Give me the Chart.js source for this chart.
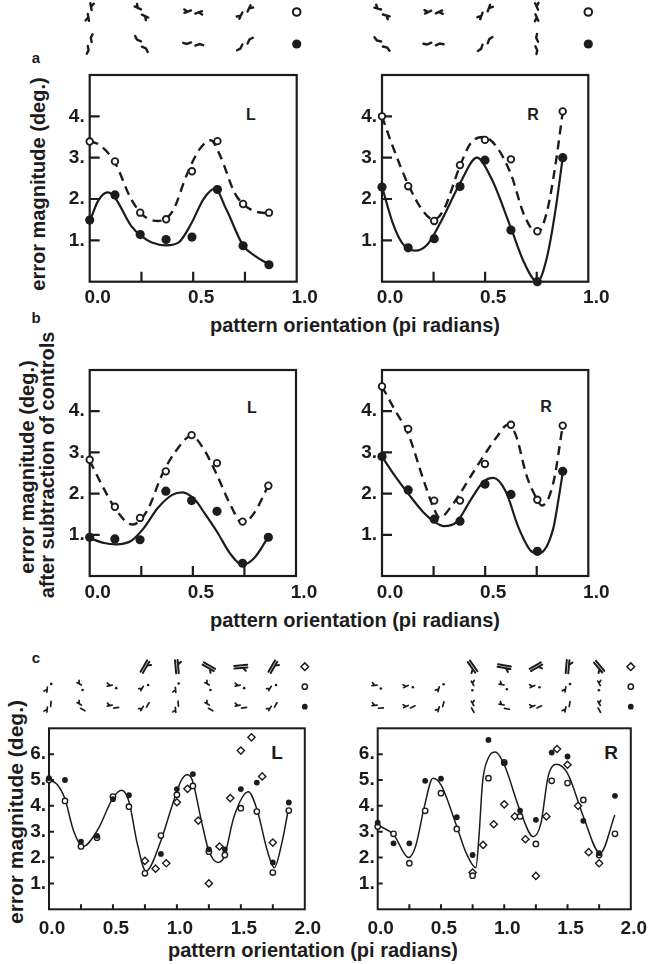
<!DOCTYPE html>
<html>
<head>
<meta charset="utf-8">
<script src="https://cdn.jsdelivr.net/npm/chart.js@4.4.1/dist/chart.umd.min.js"></script>
<style>
  body { margin: 0; background: #fff; width: 652px; height: 964px; position: relative; overflow: hidden;
         font-family: "Liberation Sans", Arial, Helvetica, sans-serif; font-weight: bold; color: #1c1c1c; }
  canvas { position: absolute; }
  .t { position: absolute; white-space: nowrap; line-height: 1; transform: translate(-50%, -50%); }
  .v { transform: translate(-50%, -50%) rotate(-90deg); }
</style>
</head>
<body>
<div class="t" style="left:36px;top:57px;font-size:15px">a</div>
<div class="t" style="left:36px;top:317px;font-size:15px">b</div>
<div class="t" style="left:36px;top:657px;font-size:15px">c</div>

<div class="t" style="left:251px;top:115px;font-size:16px">L</div>
<div class="t" style="left:533px;top:115px;font-size:16px">R</div>
<div class="t" style="left:252px;top:408px;font-size:16px">L</div>
<div class="t" style="left:546px;top:407px;font-size:16px">R</div>
<div class="t" style="left:277px;top:752px;font-size:19px">L</div>
<div class="t" style="left:611px;top:752px;font-size:19px">R</div>

<div class="t v" style="left:38px;top:184px;font-size:20px">error magnitude (deg.)</div>
<div class="t v" style="left:27px;top:467px;font-size:20px">error magnitude (deg.)</div>
<div class="t v" style="left:47px;top:465px;font-size:20px">after subtraction of controls</div>
<div class="t v" style="left:15px;top:812px;font-size:21px">error magnitude (deg.)</div>

<div class="t" style="left:355px;top:325px;font-size:20px">pattern orientation (pi radians)</div>
<div class="t" style="left:355px;top:620px;font-size:20px">pattern orientation (pi radians)</div>
<div class="t" style="left:313px;top:950px;font-size:20px">pattern orientation (pi radians)</div>

<script>
// pattern orientation of each test (pi radians)
const orientL = [0, 0.122, 0.244, 0.369, 0.494, 0.617, 0.741, 0.866];
const orientR = [0, 0.127, 0.253, 0.378, 0.499, 0.625, 0.753, 0.876];

// a: error magnitude (deg.)
const aLOpen = [3.39, 2.91, 1.67, 1.51, 2.67, 3.40, 1.88, 1.67];
const aLFill = [1.49, 2.10, 1.14, 1.02, 1.08, 2.23, 0.87, 0.41];
const aROpen = [4.00, 2.31, 1.47, 2.82, 3.43, 2.96, 1.22, 4.12];
const aRFill = [2.29, 0.82, 1.04, 2.30, 2.94, 1.25, 0.00, 3.00];

// b: after subtraction of controls
const bLOpen = [2.82, 1.68, 1.41, 2.54, 3.42, 2.74, 1.32, 2.19];
const bLFill = [0.94, 0.90, 0.88, 2.06, 1.83, 1.57, 0.31, 0.94];
const bROpen = [4.60, 3.57, 1.83, 1.83, 2.72, 3.67, 1.85, 3.65];
const bRFill = [2.90, 2.09, 1.38, 1.33, 2.23, 1.98, 0.60, 2.54];

// fitted curves
const aLFillFitX = [0, 0.04, 0.087, 0.122, 0.2, 0.25, 0.3, 0.37, 0.43, 0.49, 0.55, 0.605, 0.66, 0.741, 0.8, 0.866];
const aLFillFitY = [1.45, 1.95, 2.16, 2.03, 1.35, 1.1, 0.95, 0.88, 0.95, 1.4, 2.0, 2.25, 1.75, 0.88, 0.62, 0.42];
const aLOpenFitX = [0, 0.05, 0.122, 0.2, 0.26, 0.33, 0.4, 0.47, 0.53, 0.585, 0.63, 0.7, 0.741, 0.8, 0.866];
const aLOpenFitY = [3.4, 3.3, 2.88, 2.0, 1.6, 1.47, 1.7, 2.6, 3.2, 3.42, 3.05, 2.15, 1.88, 1.7, 1.65];
const aRFillFitX = [0, 0.05, 0.1, 0.16, 0.22, 0.28, 0.33, 0.38, 0.46, 0.53, 0.625, 0.69, 0.753, 0.8, 0.84, 0.876];
const aRFillFitY = [2.3, 1.45, 0.92, 0.75, 0.9, 1.4, 1.9, 2.4, 3.0, 2.5, 1.3, 0.45, 0.0, 0.6, 1.7, 3.0];
const aROpenFitX = [0, 0.05, 0.127, 0.2, 0.25, 0.3, 0.378, 0.43, 0.49, 0.55, 0.625, 0.69, 0.753, 0.8, 0.84, 0.876];
const aROpenFitY = [4.0, 3.3, 2.35, 1.7, 1.5, 1.75, 2.8, 3.35, 3.5, 3.3, 2.6, 1.6, 1.18, 1.7, 2.8, 4.1];

const bLFillFitX = [0, 0.07, 0.13, 0.2, 0.26, 0.33, 0.4, 0.45, 0.51, 0.56, 0.62, 0.68, 0.74, 0.8, 0.866];
const bLFillFitY = [0.92, 0.8, 0.77, 0.85, 1.15, 1.65, 1.97, 2.03, 1.85, 1.5, 1.05, 0.55, 0.27, 0.45, 0.95];
const bLOpenFitX = [0, 0.06, 0.122, 0.18, 0.21, 0.28, 0.35, 0.42, 0.494, 0.55, 0.617, 0.68, 0.741, 0.8, 0.866];
const bLOpenFitY = [2.8, 2.2, 1.65, 1.3, 1.25, 1.6, 2.45, 3.05, 3.4, 3.1, 2.45, 1.75, 1.28, 1.55, 2.2];
const bRFillFitX = [0, 0.06, 0.127, 0.2, 0.253, 0.3, 0.36, 0.43, 0.49, 0.54, 0.6, 0.66, 0.72, 0.76, 0.83, 0.86, 0.876];
const bRFillFitY = [2.9, 2.45, 2.0, 1.55, 1.32, 1.21, 1.3, 1.85, 2.28, 2.38, 2.05, 1.2, 0.62, 0.55, 1.15, 2.0, 2.5];
const bROpenFitX = [0, 0.06, 0.127, 0.2, 0.253, 0.28, 0.33, 0.378, 0.44, 0.499, 0.56, 0.61, 0.65, 0.7, 0.753, 0.775, 0.83, 0.876];
const bROpenFitY = [4.6, 4.05, 3.45, 2.35, 1.62, 1.41, 1.65, 2.0, 2.5, 2.96, 3.4, 3.67, 3.4, 2.45, 1.85, 1.71, 2.25, 3.65];

// c: 16 orientations, diamonds only 0.75..1.75
const cX = [0, 0.125, 0.25, 0.375, 0.5, 0.625, 0.75, 0.875, 1.0, 1.125, 1.25, 1.375, 1.5, 1.625, 1.75, 1.875];
const cDiaX = [0.75, 0.833, 0.917, 1.0, 1.083, 1.167, 1.25, 1.333, 1.417, 1.5, 1.583, 1.667, 1.75];
const cLFill = [5.07, 5.0, 2.62, 2.84, 4.26, 4.41, null, 2.14, 4.65, 5.23, 2.32, 2.32, 4.65, 4.9, 1.81, 4.13];
const cLOpen = [5.0, 4.19, 2.43, 2.77, 4.36, 3.97, 1.39, 2.85, 4.43, 4.77, 2.23, 2.1, 3.91, 3.78, 1.42, 3.82];
const cLDia = [1.87, 1.57, 1.78, 4.14, 4.66, 3.43, 1.0, 2.43, 4.3, 6.14, 6.65, 5.14, 2.58];
const cRFill = [3.35, 2.55, 2.55, 4.97, 5.05, 3.56, 2.1, 6.55, 5.65, 3.82, 3.46, 6.06, 5.91, 3.42, 2.17, 4.39];
const cROpen = [3.2, 2.92, 1.78, 3.81, 4.49, 3.11, 1.3, 5.07, 5.68, 3.59, 2.53, 4.97, 4.88, 4.23, 2.1, 2.92];
const cRDia = [1.42, 2.49, 3.29, 4.06, 3.59, 2.71, 1.29, 3.59, 6.2, 5.59, 4.0, 2.21, 1.78];

const cLFitX = [0, 0.06, 0.123, 0.19, 0.265, 0.38, 0.5, 0.568, 0.625, 0.69, 0.758, 0.877, 0.96, 1.036, 1.08, 1.12, 1.19, 1.247, 1.32, 1.37, 1.447, 1.558, 1.627, 1.705, 1.761, 1.82, 1.871];
const cLFitY = [5.0, 4.85, 4.3, 3.07, 2.43, 3.07, 4.3, 4.6, 4.17, 2.55, 1.48, 2.68, 3.97, 5.0, 5.2, 5.0, 3.46, 2.3, 1.81, 2.04, 3.59, 4.55, 3.85, 2.3, 1.61, 2.55, 3.85];
const cRFitX = [0, 0.126, 0.244, 0.3, 0.37, 0.437, 0.5, 0.625, 0.7, 0.776, 0.8, 0.828, 0.874, 0.93, 1.0, 1.123, 1.23, 1.29, 1.347, 1.41, 1.5, 1.625, 1.758, 1.874];
const cRFitY = [3.26, 2.88, 2.0, 2.45, 4.0, 5.07, 4.81, 3.2, 2.17, 1.61, 2.8, 4.88, 5.85, 6.08, 5.59, 3.85, 2.81, 3.33, 5.14, 5.61, 5.26, 3.59, 2.17, 3.65];

// tick labels
const abXTicks = [0, 0.5, 1.0];
const abYTicks = [1, 2, 3, 4];
const cXTicks = [0, 0.5, 1.0, 1.5, 2.0];
const cYTicks = [1, 2, 3, 4, 5, 6];

// stimulus glyph orientations (degrees) above each column
const aLGlyphs = [-80, -25, 20, 65];
const aRGlyphs = [-15, 25, 70, -65];
const cLGlyphs = [85, -30, 10, 60, 95, -30, 10, 60];
const cRGlyphs = [5, 25, 75, -60, -10, 25, 80, -60];
const cLDiaGlyphs = [60, 95, -30, 5, 60];
const cRDiaGlyphs = [-55, -10, 30, 85, -50];

const INK = '#1c1c1c';
const FAMILY = "'Liberation Sans', Arial, Helvetica, sans-serif";

const pts = (xs, ys) => xs.map((x, i) => ({ x: x, y: ys[i] }));

function fit(xs, ys, dashed, w) {
  return {
    data: pts(xs, ys), showLine: true, pointRadius: 0, borderColor: INK,
    borderWidth: w, borderDash: dashed ? [9, 6] : [], cubicInterpolationMode: 'monotone',
    fill: false, order: 2
  };
}

function dots(xs, ys, kind) {
  const s = {
    fill:  { r: 4.6, bg: INK, bw: 0, ps: 'circle' },
    open:  { r: 3.3, bg: '#fff', bw: 1.8, ps: 'circle' },
    cfill: { r: 2.9, bg: INK, bw: 0, ps: 'circle' },
    copen: { r: 2.7, bg: '#fff', bw: 1.4, ps: 'circle' },
    cdia:  { r: 3.6, bg: '#fff', bw: 1.4, ps: 'rectRot' }
  }[kind];
  return {
    data: pts(xs, ys), showLine: false, pointRadius: s.r, pointStyle: s.ps,
    pointBackgroundColor: s.bg, pointBorderColor: INK, pointBorderWidth: s.bw,
    clip: false, order: 1
  };
}

function glyph(ctx, cx, cy, deg, kind) {
  const a = deg * Math.PI / 180;
  const ux = Math.cos(a), uy = -Math.sin(a);
  const vx = -uy, vy = ux;
  const P = (u, v) => [cx + u * ux + v * vx, cy + u * uy + v * vy];
  const seg = (list) => {
    ctx.moveTo(...P(...list[0]));
    for (let i = 1; i < list.length; i++) ctx.lineTo(...P(...list[i]));
  };
  ctx.beginPath();
  if (kind === 'aO') {
    seg([[-8.5, -2.2], [-1.5, -2.2]]); seg([[-5, -2.2], [-7.5, -5.5]]);
    seg([[1.5, 2.2], [8.5, 2.2]]); seg([[5, 2.2], [7.5, 5.5]]);
  } else if (kind === 'aF') {
    seg([[-9, -4.5], [-6, -2.2], [-1.5, -2.2]]);
    seg([[1.5, 2.2], [6, 2.2], [9, 4.5]]);
  } else if (kind === 'cD') {
    seg([[-6.5, -1.3], [6.5, -1.3]]); seg([[-6.5, 1.3], [6.5, 1.3]]); seg([[2, 1.3], [4.5, 4.5]]);
  } else if (kind === 'cO') {
    seg([[-5.5, -1.6], [-0.5, -1.6]]); seg([[-3, -1.6], [-4.8, -4.5]]);
  } else {
    seg([[-5.5, -1.6], [-0.5, -1.6]]); seg([[-3, -1.6], [-4.8, -4.5]]);
    seg([[0.5, 1.6], [5.5, 1.6]]);
  }
  ctx.stroke();
  if (kind === 'cO') {
    ctx.beginPath();
    ctx.arc(...P(3, 2), 1.3, 0, Math.PI * 2);
    ctx.fill();
  }
}

function legendMark(ctx, x, y, sym) {
  ctx.beginPath();
  if (sym === 'dia') {
    ctx.moveTo(x, y - 3.8); ctx.lineTo(x + 3.8, y); ctx.lineTo(x, y + 3.8); ctx.lineTo(x - 3.8, y); ctx.closePath();
    ctx.lineWidth = 1.5; ctx.fillStyle = '#fff'; ctx.fill(); ctx.stroke();
  } else {
    const r = sym === 'open' ? 3.8 : sym === 'fill' ? 4.6 : sym === 'copen' ? 2.6 : 2.9;
    ctx.arc(x, y, r, 0, Math.PI * 2);
    if (sym === 'open' || sym === 'copen') {
      ctx.lineWidth = sym === 'open' ? 2 : 1.5; ctx.fillStyle = '#fff'; ctx.fill(); ctx.stroke();
    } else {
      ctx.fillStyle = INK; ctx.fill();
    }
  }
}

// one panel = one canvas; rect is the canvas on the page, area the plot box on the page
function panel(rect, area, cfg) {
  const [cl, ct, cw, ch] = rect;
  const [al, at, ar, ab] = area;
  const YW = 40, XH = cfg.xh;
  const cv = document.createElement('canvas');
  cv.width = cw; cv.height = ch;
  cv.style.left = cl + 'px'; cv.style.top = ct + 'px';
  document.body.appendChild(cv);

  const decor = {
    id: 'decor',
    beforeDatasetsDraw(chart) {
      const { ctx, chartArea: a, scales: { x, y } } = chart;
      ctx.save();
      ctx.strokeStyle = INK;
      ctx.lineWidth = cfg.frameW;
      ctx.strokeRect(a.left, a.top, a.right - a.left, a.bottom - a.top);
      ctx.beginPath();
      cfg.xMarks.forEach(v => {
        const px = x.getPixelForValue(v);
        ctx.moveTo(px, a.bottom); ctx.lineTo(px, a.bottom - cfg.markLen);
      });
      cfg.yMarks.forEach(v => {
        const py = y.getPixelForValue(v);
        ctx.moveTo(a.left, py); ctx.lineTo(a.left + cfg.markLen, py);
      });
      ctx.stroke();
      ctx.restore();
    },
    afterDraw(chart) {
      const { ctx, scales: { x } } = chart;
      ctx.save();
      ctx.strokeStyle = INK;
      ctx.lineCap = 'round';
      cfg.glyphRows.forEach(row => {
        row.cols.forEach((c, i) => {
          ctx.lineWidth = row.lw;
          ctx.fillStyle = INK;
          glyph(ctx, x.getPixelForValue(c), row.y, row.angles[i], row.kind);
        });
        legendMark(ctx, x.getPixelForValue(cfg.legendX), row.y, row.sym);
      });
      ctx.restore();
    }
  };

  const font = { family: FAMILY, size: 19, weight: 'bold' };
  new Chart(cv, {
    type: 'line',
    data: { datasets: cfg.datasets },
    options: {
      responsive: false, animation: false, devicePixelRatio: 1, events: [],
      layout: {
        autoPadding: false,
        padding: { left: al - cl - YW, top: at - ct, right: cl + cw - ar, bottom: ct + ch - ab - XH }
      },
      plugins: { legend: { display: false }, tooltip: { enabled: false } },
      scales: {
        x: {
          type: 'linear', min: 0, max: cfg.xMax,
          afterBuildTicks: s => { s.ticks = cfg.xTicks.map(v => ({ value: v })); },
          afterFit: s => { s.height = XH; },
          ticks: { callback: v => Number(v).toFixed(1), font: font, color: INK,
                   padding: cfg.xPad, labelOffset: cfg.xOff, maxRotation: 0, autoSkip: false },
          grid: { display: false, drawTicks: false }, border: { display: false }
        },
        y: {
          type: 'linear', min: 0, max: cfg.yMax,
          afterBuildTicks: s => { s.ticks = cfg.yTicks.map(v => ({ value: v })); },
          afterFit: s => { s.width = YW; },
          ticks: { callback: v => v + '.', font: font, color: INK, padding: cfg.yPad },
          grid: { display: false, drawTicks: false }, border: { display: false }
        }
      }
    },
    plugins: [decor]
  });
}

const abMarks = { xMarks: [0.25, 0.5, 0.75], yMarks: [1, 2, 3, 4], markLen: 10, frameW: 2.2,
                  xMax: 1, yMax: 5, xTicks: abXTicks, yTicks: abYTicks, xPad: 5, xOff: 8, yPad: 5, legendX: 1.0 };
const cMarks = { xMarks: [0.25, 0.5, 0.75, 1, 1.25, 1.5, 1.75], yMarks: [1, 2, 3, 4, 5, 6], markLen: 5, frameW: 2,
                 xMax: 2, yMax: 7, xTicks: cXTicks, yTicks: cYTicks, xPad: 8, xOff: 3, yPad: 3, legendX: 2.0 };

const aRows = (angles) => [
  { y: 12, kind: 'aO', cols: [0, 0.25, 0.5, 0.75], angles: angles, lw: 2.4, sym: 'open' },
  { y: 44, kind: 'aF', cols: [0, 0.25, 0.5, 0.75], angles: angles, lw: 2.4, sym: 'fill' }
];
const cRows = (diaAngles, angles) => [
  { y: 26.7, kind: 'cD', cols: [0.75, 1.0, 1.25, 1.5, 1.75], angles: diaAngles, lw: 2, sym: 'dia' },
  { y: 46.7, kind: 'cO', cols: [0, 0.25, 0.5, 0.75, 1.0, 1.25, 1.5, 1.75], angles: angles, lw: 1.7, sym: 'copen' },
  { y: 66.7, kind: 'cF', cols: [0, 0.25, 0.5, 0.75, 1.0, 1.25, 1.5, 1.75], angles: angles, lw: 1.7, sym: 'cfill' }
];

panel([0, 0, 326, 305], [89.7, 75, 296.7, 281.7], Object.assign({}, abMarks, {
  xh: 23.3, glyphRows: aRows(aLGlyphs),
  datasets: [
    dots(orientL, aLFill, 'fill'), dots(orientL, aLOpen, 'open'),
    fit(aLFillFitX, aLFillFitY, false, 2.2), fit(aLOpenFitX, aLOpenFitY, true, 2.4)
  ]
}));
panel([326, 0, 326, 305], [382, 75, 588.3, 281.7], Object.assign({}, abMarks, {
  xh: 23.3, glyphRows: aRows(aRGlyphs),
  datasets: [
    dots(orientR, aRFill, 'fill'), dots(orientR, aROpen, 'open'),
    fit(aRFillFitX, aRFillFitY, false, 2.2), fit(aROpenFitX, aROpenFitY, true, 2.4)
  ]
}));
panel([0, 300, 326, 300], [89.7, 370, 296, 576], Object.assign({}, abMarks, {
  xh: 24, glyphRows: [],
  datasets: [
    dots(orientL, bLFill, 'fill'), dots(orientL, bLOpen, 'open'),
    fit(bLFillFitX, bLFillFitY, false, 2.2), fit(bLOpenFitX, bLOpenFitY, true, 2.4)
  ]
}));
panel([326, 300, 326, 300], [382, 370, 588.3, 576], Object.assign({}, abMarks, {
  xh: 24, glyphRows: [],
  datasets: [
    dots(orientR, bRFill, 'fill'), dots(orientR, bROpen, 'open'),
    fit(bRFillFitX, bRFillFitY, false, 2.2), fit(bROpenFitX, bROpenFitY, true, 2.4)
  ]
}));
panel([0, 640, 326, 324], [49, 728.3, 308, 909.3], Object.assign({}, cMarks, {
  xh: 30, glyphRows: cRows(cLDiaGlyphs, cLGlyphs),
  datasets: [
    dots(cX, cLFill, 'cfill'), dots(cX, cLOpen, 'copen'), dots(cDiaX, cLDia, 'cdia'),
    fit(cLFitX, cLFitY, false, 1.5)
  ]
}));
panel([326, 640, 326, 324], [377.7, 728.3, 637, 909.3], Object.assign({}, cMarks, {
  xh: 30, glyphRows: cRows(cRDiaGlyphs, cRGlyphs),
  datasets: [
    dots(cX, cRFill, 'cfill'), dots(cX, cROpen, 'copen'), dots(cDiaX, cRDia, 'cdia'),
    fit(cRFitX, cRFitY, false, 1.5)
  ]
}));
</script>
</body>
</html>
